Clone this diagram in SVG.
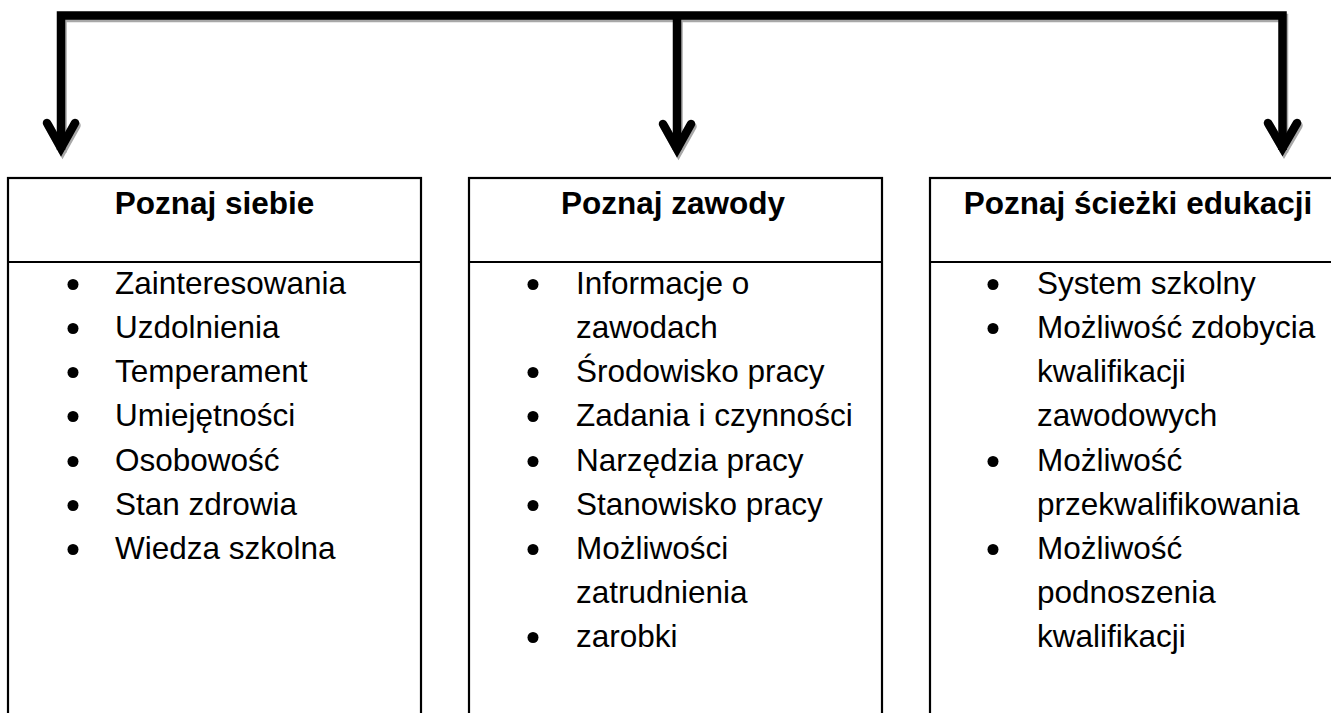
<svg xmlns="http://www.w3.org/2000/svg" width="1331" height="713" viewBox="0 0 1331 713">
<style>
.box{fill:#fff;stroke:#000;stroke-width:2.2}
.div{stroke:#000;stroke-width:2.2}
.title{font-family:"Liberation Sans",Arial,sans-serif;font-weight:bold;font-size:31.5px;fill:#000;text-anchor:middle}
.item{font-family:"Liberation Sans",Arial,sans-serif;font-size:31.5px;fill:#000}
.bul{fill:#000}
.conn{fill:none;stroke:#000;stroke-width:8.5;stroke-linejoin:miter;stroke-linecap:butt}
.shadow{fill:none;stroke:#a8a8a8;stroke-width:8.5;stroke-linejoin:miter}
.head{fill:none;stroke:#000;stroke-width:8.5;stroke-linejoin:miter;stroke-linecap:round;stroke-miterlimit:10}
.headsh{fill:none;stroke:#a8a8a8;stroke-width:8.5;stroke-linejoin:miter;stroke-linecap:round;stroke-miterlimit:10}
</style>
<rect width="1331" height="713" fill="#fff"/>
<g id="connectors">
  <g transform="translate(1.5,2.5)">
    <path class="shadow" d="M61,150 V15.5 H1282.5 V150 M677,15.5 V150"/>
    <polyline class="headsh" points="47,123 61,148 75,123"/>
    <polyline class="headsh" points="663,124 677,149 691,124"/>
    <polyline class="headsh" points="1268,123 1282.5,148 1297,123"/>
  </g>
  <path class="conn" d="M61,150 V15.5 H1282.5 V150 M677,15.5 V150"/>
  <polyline class="head" points="47,123 61,148 75,123"/>
  <polyline class="head" points="663,124 677,149 691,124"/>
  <polyline class="head" points="1268,123 1282.5,148 1297,123"/>
</g>
<g id="node-siebie">
  <rect class="box" x="8" y="178" width="413" height="560"/>
  <line class="div" x1="8" y1="262" x2="421" y2="262"/>
  <text class="title" x="214.5" y="214">Poznaj siebie</text>
  <g class="bul">
    <circle cx="73" cy="284.5" r="5.5"/><circle cx="73" cy="328.5" r="5.5"/><circle cx="73" cy="372.5" r="5.5"/><circle cx="73" cy="416.5" r="5.5"/><circle cx="73" cy="461.5" r="5.5"/><circle cx="73" cy="505.5" r="5.5"/><circle cx="73" cy="549.5" r="5.5"/>
  </g>
  <text class="item" x="115" y="294">Zainteresowania</text>
  <text class="item" x="115" y="338">Uzdolnienia</text>
  <text class="item" x="115" y="382">Temperament</text>
  <text class="item" x="115" y="426">Umiejętności</text>
  <text class="item" x="115" y="471">Osobowość</text>
  <text class="item" x="115" y="515">Stan zdrowia</text>
  <text class="item" x="115" y="559">Wiedza szkolna</text>
</g>
<g id="node-zawody">
  <rect class="box" x="469" y="178" width="413" height="560"/>
  <line class="div" x1="469" y1="262" x2="882" y2="262"/>
  <text class="title" x="673" y="214">Poznaj zawody</text>
  <g class="bul">
    <circle cx="533" cy="284.5" r="5.5"/><circle cx="533" cy="372.5" r="5.5"/><circle cx="533" cy="416.5" r="5.5"/><circle cx="533" cy="461.5" r="5.5"/><circle cx="533" cy="505.5" r="5.5"/><circle cx="533" cy="549.5" r="5.5"/><circle cx="533" cy="637.5" r="5.5"/>
  </g>
  <text class="item" x="576" y="294">Informacje o</text>
  <text class="item" x="576" y="338">zawodach</text>
  <text class="item" x="576" y="382">Środowisko pracy</text>
  <text class="item" x="576" y="426">Zadania i czynności</text>
  <text class="item" x="576" y="471">Narzędzia pracy</text>
  <text class="item" x="576" y="515">Stanowisko pracy</text>
  <text class="item" x="576" y="559">Możliwości</text>
  <text class="item" x="576" y="603">zatrudnienia</text>
  <text class="item" x="576" y="647">zarobki</text>
</g>
<g id="node-edukacja">
  <rect class="box" x="930" y="178" width="420" height="560"/>
  <line class="div" x1="930" y1="262" x2="1340" y2="262"/>
  <text class="title" x="1138" y="214">Poznaj ścieżki edukacji</text>
  <g class="bul">
    <circle cx="993" cy="284.5" r="5.5"/><circle cx="993" cy="328.5" r="5.5"/><circle cx="993" cy="461.5" r="5.5"/><circle cx="993" cy="549.5" r="5.5"/>
  </g>
  <text class="item" x="1037" y="294">System szkolny</text>
  <text class="item" x="1037" y="338">Możliwość zdobycia</text>
  <text class="item" x="1037" y="382">kwalifikacji</text>
  <text class="item" x="1037" y="426">zawodowych</text>
  <text class="item" x="1037" y="471">Możliwość</text>
  <text class="item" x="1037" y="515">przekwalifikowania</text>
  <text class="item" x="1037" y="559">Możliwość</text>
  <text class="item" x="1037" y="603">podnoszenia</text>
  <text class="item" x="1037" y="647">kwalifikacji</text>
</g>
</svg>
